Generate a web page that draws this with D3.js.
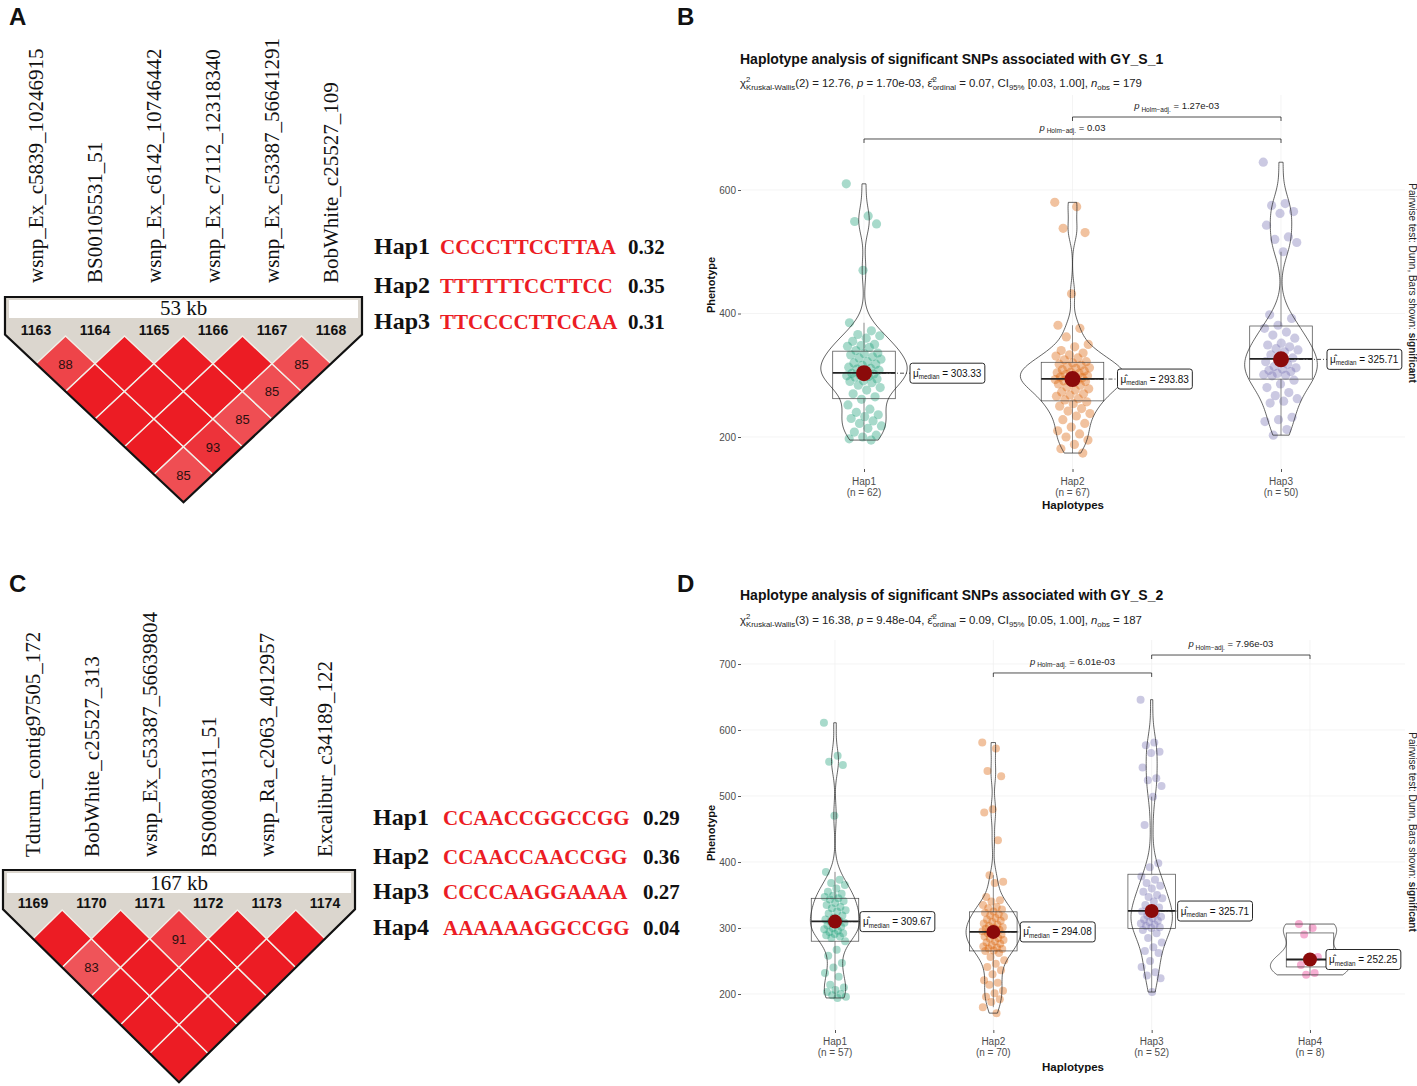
<!DOCTYPE html>
<html>
<head>
<meta charset="utf-8">
<script src="https://cdn.jsdelivr.net/npm/d3@7"></script>
<style>
  body { margin: 0; background: #fff; }
  svg text { font-family: "Liberation Sans", Arial, sans-serif; }
  svg text.serif { font-family: "Liberation Serif", "Times New Roman", serif; }
</style>
</head>
<body>
<svg id="fig" width="1417" height="1086"></svg>
<script>
// ---------------- data: LD blocks (panels A and C)
const snpNamesA = ["wsnp_Ex_c5839_10246915", "BS00105531_51", "wsnp_Ex_c6142_10746442",
                   "wsnp_Ex_c7112_12318340", "wsnp_Ex_c53387_56641291", "BobWhite_c25527_109"];
const snpIdsA = ["1163", "1164", "1165", "1166", "1167", "1168"];
const ldA = [[0, 1, 88], [4, 5, 85], [3, 5, 85], [2, 5, 85], [1, 5, 93], [0, 5, 85]]; // D' below 100
const spanA = "53 kb";
const hapNamesA = ["Hap1", "Hap2", "Hap3"];
const hapSeqA = ["CCCCTTCCTTAA", "TTTTTTCCTTCC", "TTCCCCTTCCAA"];
const hapFreqA = ["0.32", "0.35", "0.31"];

const snpNamesC = ["Tdurum_contig97505_172", "BobWhite_c25527_313", "wsnp_Ex_c53387_56639804",
                   "BS00080311_51", "wsnp_Ra_c2063_4012957", "Excalibur_c34189_122"];
const snpIdsC = ["1169", "1170", "1171", "1172", "1173", "1174"];
const ldC = [[0, 2, 83], [2, 3, 91]];
const spanC = "167 kb";
const hapNamesC = ["Hap1", "Hap2", "Hap3", "Hap4"];
const hapSeqC = ["CCAACCGGCCGG", "CCAACCAACCGG", "CCCCAAGGAAAA", "AAAAAAGGCCGG"];
const hapFreqC = ["0.29", "0.36", "0.27", "0.04"];

// ---------------- data: GY_S_1 (panel B)
const titleB = "Haplotype analysis of significant SNPs associated with GY_S_1";
const subB = ["2", "12.76", "1.70e-03", "0.07", "[0.03, 1.00]", "179"];
const groupsB = ["Hap1", "Hap2", "Hap3"];
const countsB = [62, 67, 50];
const hap1B = [610, 558, 549, 545, 470, 385, 372, 366, 364, 360, 355, 350, 348, 347, 345, 340, 336, 335, 333, 330,
  328, 326, 322, 320, 318, 316, 313, 311, 310, 308, 305, 303, 302, 300, 299, 298, 297, 294, 291, 290,
  288, 284, 280, 276, 270, 265, 261, 252, 245, 240, 236, 233, 230, 226, 222, 218, 214, 208, 203, 200, 197, 195];
const hap2B = [580, 573, 538, 531, 432, 381, 376, 362, 350, 346, 340, 336, 333, 331, 328, 325, 322, 320, 318, 316,
  314, 312, 311, 309, 307, 305, 304, 303, 301, 299, 298, 297, 296, 294, 293, 292, 291, 290, 288, 286,
  284, 281, 278, 276, 273, 270, 268, 266, 262, 260, 257, 254, 250, 246, 242, 238, 234, 228, 222, 216,
  210, 205, 200, 195, 188, 181, 174];
const hap3B = [645, 578, 575, 565, 562, 543, 524, 520, 515, 500, 398, 392, 381, 376, 370, 365, 360, 352, 349, 346,
  343, 341, 338, 333, 328, 325, 322, 318, 314, 312, 310, 308, 306, 303, 301, 300, 299, 292, 286, 280,
  272, 267, 262, 258, 255, 232, 228, 225, 212, 203];
const mediansB = [303.33, 293.83, 325.71];
const pairsB = [["Hap1", "Hap3", "0.03"], ["Hap2", "Hap3", "1.27e-03"]];
const yTicksB = [200, 400, 600];

// ---------------- data: GY_S_2 (panel D)
const titleD = "Haplotype analysis of significant SNPs associated with GY_S_2";
const subD = ["3", "16.38", "9.48e-04", "0.09", "[0.05, 1.00]", "187"];
const groupsD = ["Hap1", "Hap2", "Hap3", "Hap4"];
const countsD = [57, 70, 52, 8];
const hap1D = [611, 561, 552, 547, 470, 385, 373, 368, 365, 360, 355, 352, 349, 347, 345, 343, 341, 338, 335, 332,
  330, 327, 325, 322, 319, 316, 313, 311, 310, 308, 306, 304, 302, 300, 298, 296, 294, 292, 291, 289,
  287, 285, 280, 267, 258, 247, 240, 232, 226, 214, 210, 206, 203, 200, 198, 196, 194];
const hap2D = [581, 572, 538, 530, 480, 475, 433, 380, 370, 368, 347, 342, 340, 335, 332, 330, 328, 325, 323, 321,
  319, 317, 315, 313, 311, 309, 307, 305, 303, 301, 300, 299, 297, 296, 295, 293, 292, 290, 289, 287,
  285, 284, 282, 280, 278, 276, 274, 272, 270, 269, 268, 266, 265, 262, 256, 251, 246, 241, 236, 230,
  221, 217, 214, 205, 201, 196, 192, 188, 180, 171];
const hap3D = [646, 581, 577, 567, 565, 543, 527, 524, 515, 499, 456, 398, 392, 378, 373, 368, 364, 360, 355, 350,
  347, 345, 340, 335, 331, 327, 325, 322, 319, 317, 315, 313, 311, 309, 307, 305, 303, 301, 300, 297,
  292, 285, 278, 271, 265, 262, 250, 241, 233, 228, 224, 203];
const hap4D = [306, 300, 290, 256, 248.5, 244, 232, 229];
const mediansD = [309.67, 294.08, 325.71, 252.25];
const pairsD = [["Hap2", "Hap3", "6.01e-03"], ["Hap3", "Hap4", "7.96e-03"]];
const yTicksD = [200, 300, 400, 500, 600, 700];

// ---------------- shared
const DARK2 = ["#1b9e77", "#d95f02", "#7570b3", "#e7298a"];
const svg = d3.select("#fig");

// panel letters
[["A", 9, 25], ["B", 677, 25], ["C", 9, 592], ["D", 677, 592]].forEach(d => {
  svg.append("text").attr("x", d[1]).attr("y", d[2]).attr("font-size", 24)
    .attr("font-weight", "bold").attr("fill", "#111").text(d[0]);
});

// ---------------- LD triangle
function drawLD(o) {
  const g = svg.append("g");
  const x = d3.scalePoint().domain(o.ids).range(o.snpRange);
  const hw = x.step() / 2, hh = o.hh, n = o.ids.length;
  const first = x(o.ids[0]), last = x(o.ids[n - 1]);
  const apex = [(first + last) / 2, o.dTop + n * hh];
  const sideL = o.dTop + hh - (first - o.x0) * hh / hw;
  const sideR = o.dTop + hh - (o.x1 - last) * hh / hw;
  const outline = [[o.x0, o.top], [o.x1, o.top], [o.x1, sideR], apex, [o.x0, sideL]];
  const line = d3.line();

  g.append("path").attr("d", line(outline) + "Z").attr("fill", "#dbd6ce");
  g.append("rect").attr("x", o.x0 + 4).attr("y", o.band[0]).attr("width", o.x1 - o.x0 - 8)
    .attr("height", o.band[1] - o.band[0]).attr("fill", "#fff");
  g.append("text").attr("class", "serif").attr("x", (o.x0 + o.x1) / 2).attr("y", o.band[1] - 3)
    .attr("text-anchor", "middle").attr("font-size", 21).attr("fill", "#111").text(o.span);

  g.selectAll(".sid").data(o.ids).join("text").attr("class", "sid")
    .attr("x", d => x(d)).attr("y", o.idY).attr("text-anchor", "middle")
    .attr("font-size", 14).attr("font-weight", "bold").attr("fill", "#111").text(d => d);

  // every pair of markers, with D' = 100 unless listed
  const cells = [];
  for (let i = 0; i < n; i++) for (let j = i + 1; j < n; j++) {
    const hit = o.ld.find(c => c[0] === i && c[1] === j);
    cells.push({ i, j, v: hit ? hit[2] : 100 });
  }
  const col = v => d3.interpolateRgb("#f4a0a0", "#ec1c24")((v - 60) / 40);
  g.selectAll(".cell").data(cells).join("path").attr("class", "cell")
    .attr("d", c => {
      const cx = (x(o.ids[c.i]) + x(o.ids[c.j])) / 2, cy = o.dTop + (c.j - c.i) * hh;
      return line([[cx, cy - hh], [cx + hw, cy], [cx, cy + hh], [cx - hw, cy]]) + "Z";
    })
    .attr("fill", c => col(c.v)).attr("stroke", "#f3efe8").attr("stroke-width", 1.4);
  g.selectAll(".cv").data(cells.filter(c => c.v < 100)).join("text").attr("class", "cv")
    .attr("x", c => (x(o.ids[c.i]) + x(o.ids[c.j])) / 2)
    .attr("y", c => o.dTop + (c.j - c.i) * hh + 5)
    .attr("text-anchor", "middle").attr("font-size", 13).attr("fill", "#2a1010").text(c => c.v);

  g.append("path").attr("d", line(outline) + "Z").attr("fill", "none")
    .attr("stroke", "#111").attr("stroke-width", 2.2).attr("stroke-linejoin", "miter");

  // marker names, rotated
  g.selectAll(".snm").data(o.names).join("text").attr("class", "serif snm")
    .attr("transform", (d, k) => `translate(${x(o.ids[k])},${o.nameY}) rotate(-90)`)
    .attr("dy", "0.35em").attr("font-size", 21).attr("fill", "#111").text(d => d);
}

function drawHaps(names, seqs, freqs, xs, ys) {
  const g = svg.append("g").attr("font-weight", "bold");
  names.forEach((nm, k) => {
    g.append("text").attr("class", "serif").attr("x", xs[0]).attr("y", ys[k])
      .attr("font-size", 24).attr("fill", "#111").text(nm);
    g.append("text").attr("class", "serif").attr("x", xs[1]).attr("y", ys[k])
      .attr("font-size", 21).attr("fill", "#ec1c24").text(seqs[k]);
    g.append("text").attr("class", "serif").attr("x", xs[2]).attr("y", ys[k])
      .attr("font-size", 21).attr("fill", "#111").text(freqs[k]);
  });
}

drawLD({ names: snpNamesA, ids: snpIdsA, ld: ldA, span: spanA, x0: 5, x1: 362, top: 297,
         band: [300, 318], idY: 335, nameY: 283, snpRange: [36, 331], dTop: 336, hh: 27.7 });
drawHaps(hapNamesA, hapSeqA, hapFreqA, [374, 440, 628], [254, 293, 329]);

drawLD({ names: snpNamesC, ids: snpIdsC, ld: ldC, span: spanC, x0: 3, x1: 355, top: 870,
         band: [873, 893], idY: 908, nameY: 857, snpRange: [33, 325], dTop: 910, hh: 28.7 });
drawHaps(hapNamesC, hapSeqC, hapFreqC, [373, 443, 643], [825, 864, 899, 935]);

// ---------------- violin + box + jitter panels
function gauss(u) { return Math.exp(-0.5 * u * u) / Math.sqrt(2 * Math.PI); }
function bwNrd0(s) {
  const iqr = d3.quantileSorted(s, 0.75) - d3.quantileSorted(s, 0.25);
  return 0.9 * Math.min(d3.deviation(s), iqr / 1.34) * Math.pow(s.length, -0.2);
}
function density(vals) {
  const s = vals.slice().sort(d3.ascending);
  const bw = bwNrd0(s), [mn, mx] = d3.extent(s);
  return d3.range(0, 129).map(k => {
    const t = mn + (mx - mn) * k / 128;
    return { v: t, d: d3.mean(s, u => gauss((t - u) / bw)) / bw };
  });
}

function subtitle(g, x, y, s) {
  const t = g.append("text").attr("x", x).attr("y", y).attr("font-size", 11.4).attr("fill", "#222");
  t.append("tspan").text("χ");
  t.append("tspan").attr("font-size", 7.8).attr("dy", -5).text("2");
  t.append("tspan").attr("font-size", 7.8).attr("dx", -4.3).attr("dy", 8).text("Kruskal-Wallis");
  t.append("tspan").attr("dy", -3).text(`(${s[0]}) = ${s[1]}, `);
  t.append("tspan").attr("font-style", "italic").text("p");
  t.append("tspan").text(` = ${s[2]}, `);
  t.append("tspan").text("ε\u0302");
  t.append("tspan").attr("font-size", 7.8).attr("dy", -5).text("2");
  t.append("tspan").attr("font-size", 7.8).attr("dx", -4.3).attr("dy", 8).text("ordinal");
  t.append("tspan").attr("dy", -3).text(` = ${s[3]}, CI`);
  t.append("tspan").attr("font-size", 7.8).attr("dy", 3).text("95%");
  t.append("tspan").attr("dy", -3).text(` ${s[4]}, `);
  t.append("tspan").attr("font-style", "italic").text("n");
  t.append("tspan").attr("font-size", 7.8).attr("dy", 3).text("obs");
  t.append("tspan").attr("dy", -3).text(` = ${s[5]}`);
}

function drawPanel(o) {
  const g = svg.append("g");
  const x = d3.scalePoint().domain(o.groups).range(o.xRange);
  const y = d3.scaleLinear().domain(o.yDomain).range(o.yRange);
  const step = x.step();

  // faint grid
  g.append("g").selectAll("line").data(o.yTicks).join("line")
    .attr("x1", o.left).attr("x2", o.right).attr("y1", d => y(d)).attr("y2", d => y(d))
    .attr("stroke", "#efefef").attr("stroke-width", 0.7);
  g.append("g").selectAll("line").data(o.groups).join("line")
    .attr("x1", d => x(d)).attr("x2", d => x(d)).attr("y1", o.top).attr("y2", o.bottom)
    .attr("stroke", "#efefef").attr("stroke-width", 0.7);

  // y axis
  g.append("g").attr("transform", `translate(${o.left},0)`)
    .call(d3.axisLeft(y).tickValues(o.yTicks).tickSize(3).tickPadding(2))
    .call(a => {
      a.select(".domain").remove();
      a.selectAll("line").attr("stroke", "#555");
      a.selectAll("text").attr("font-size", 10).attr("fill", "#4d4d4d")
        .attr("font-family", "'Liberation Sans', Arial, sans-serif");
    });
  // x axis
  g.append("g").attr("transform", `translate(0,${o.bottom})`)
    .call(d3.axisBottom(x).tickSize(3).tickFormat(""))
    .call(a => { a.select(".domain").remove(); a.selectAll("line").attr("stroke", "#555"); });
  o.groups.forEach((grp, i) => {
    g.append("text").attr("x", x(grp)).attr("y", o.xLabY).attr("text-anchor", "middle")
      .attr("font-size", 10).attr("fill", "#4d4d4d").text(grp);
    g.append("text").attr("x", x(grp)).attr("y", o.xLabY + 11).attr("text-anchor", "middle")
      .attr("font-size", 10).attr("fill", "#4d4d4d").text(`(n = ${o.counts[i]})`);
  });
  g.append("text").attr("x", (o.left + o.right) / 2).attr("y", o.axisTitleY).attr("text-anchor", "middle")
    .attr("font-size", 11.5).attr("font-weight", "bold").attr("fill", "#111").text("Haplotypes");
  g.append("text").attr("transform", `translate(${o.left - 30},${o.phenY}) rotate(-90)`)
    .attr("text-anchor", "middle").attr("dy", "0.35em").attr("font-size", 11)
    .attr("font-weight", "bold").attr("fill", "#111").text("Phenotype");

  // titles
  g.append("text").attr("x", o.titleX).attr("y", o.titleY).attr("font-size", 14)
    .attr("font-weight", "bold").attr("fill", "#111").text(o.title);
  subtitle(g, o.titleX, o.subY, o.sub);

  // caption on the right
  const cap = g.append("text").attr("transform", `translate(${o.capX},${o.capY}) rotate(90)`)
    .attr("text-anchor", "middle").attr("dy", "0.35em").attr("font-size", 10).attr("fill", "#222");
  cap.append("tspan").text("Pairwise test:  Dunn, Bars shown:  ");
  cap.append("tspan").attr("font-weight", "bold").text("significant");

  const dens = o.data.map(density);
  const dmax = d3.max(dens, ds => d3.max(ds, p => p.d));
  const halfMax = 0.25 * step;

  o.groups.forEach((grp, i) => {
    const cx = x(grp), vals = o.data[i];
    // jittered points
    g.append("g").selectAll("circle").data(vals).join("circle")
      .attr("cx", (d, k) => cx + (((k * 0.6180339887) % 1) - 0.5) * 2 * o.jitter * step)
      .attr("cy", d => y(d)).attr("r", o.ptR)
      .attr("fill", DARK2[i]).attr("fill-opacity", 0.38);

    // box
    const s = vals.slice().sort(d3.ascending);
    const q1 = d3.quantileSorted(s, 0.25), q2 = d3.quantileSorted(s, 0.5), q3 = d3.quantileSorted(s, 0.75);
    const iqr = q3 - q1;
    const hi = d3.max(s.filter(v => v <= q3 + 1.5 * iqr)), lo = d3.min(s.filter(v => v >= q1 - 1.5 * iqr));
    const bw = 0.15 * step;
    g.append("line").attr("x1", cx).attr("x2", cx).attr("y1", y(q3)).attr("y2", y(hi))
      .attr("stroke", "#444").attr("stroke-width", 0.6);
    g.append("line").attr("x1", cx).attr("x2", cx).attr("y1", y(q1)).attr("y2", y(lo))
      .attr("stroke", "#444").attr("stroke-width", 0.6);
    g.append("rect").attr("x", cx - bw).attr("y", y(q3)).attr("width", 2 * bw).attr("height", y(q1) - y(q3))
      .attr("fill", "none").attr("stroke", "#444").attr("stroke-width", 0.7);
    g.append("line").attr("x1", cx - bw).attr("x2", cx + bw).attr("y1", y(q2)).attr("y2", y(q2))
      .attr("stroke", "#222").attr("stroke-width", 1.8);

    // violin (trimmed, area-scaled)
    const area = d3.area().y(p => y(p.v))
      .x0(p => cx - p.d / dmax * halfMax).x1(p => cx + p.d / dmax * halfMax);
    g.append("path").datum(dens[i]).attr("d", area).attr("fill", "none")
      .attr("stroke", "#222").attr("stroke-width", 0.7);

    // median point + label
    const my = y(o.medians[i]), lx = cx + o.labelDx[i];
    g.append("line").attr("x1", cx).attr("x2", lx).attr("y1", my).attr("y2", my)
      .attr("stroke", "#222").attr("stroke-width", 0.8).attr("stroke-dasharray", "4,2,1,2");
    g.append("circle").attr("cx", cx).attr("cy", my).attr("r", o.dotR).attr("fill", "#8b0a0a");
    const lab = g.append("g");
    const t = lab.append("text").attr("x", lx + 3).attr("y", my + 3.5).attr("font-size", 10).attr("fill", "#111");
    t.append("tspan").text("μ\u0302");
    t.append("tspan").attr("font-size", 6.3).attr("dy", 2.5).text("median");
    t.append("tspan").attr("dy", -2.5).text(" = " + o.medians[i].toFixed(2));
    const bb = t.node().getBBox();
    lab.insert("rect", "text").attr("x", lx).attr("y", my - 10).attr("width", bb.width + 6).attr("height", 20)
      .attr("rx", 2.5).attr("fill", "#fff").attr("stroke", "#111").attr("stroke-width", 0.9);
  });

  // significance brackets
  o.pairs.forEach((pr, k) => {
    const x1 = x(pr[0]), x2 = x(pr[1]), yy = y(o.bracketV[k]);
    g.append("path").attr("d", `M${x1},${yy + 4}V${yy}H${x2}V${yy + 4}`)
      .attr("fill", "none").attr("stroke", "#222").attr("stroke-width", 0.8);
    const t = g.append("text").attr("x", (x1 + x2) / 2).attr("y", yy - 8)
      .attr("text-anchor", "middle").attr("font-size", 9.5).attr("fill", "#222");
    t.append("tspan").attr("font-style", "italic").text("p");
    t.append("tspan").attr("font-size", 6.5).attr("dy", 2.5).text(" Holm\u2212adj.");
    t.append("tspan").attr("dy", -2.5).text(" = " + pr[2]);
  });
}

drawPanel({
  groups: groupsB, counts: countsB, data: [hap1B, hap2B, hap3B], medians: mediansB, pairs: pairsB,
  title: titleB, sub: subB, yTicks: yTicksB, yDomain: [200, 600], yRange: [437, 190], xRange: [864, 1281],
  left: 741, right: 1405, top: 95, bottom: 469, titleX: 740, titleY: 64, subY: 87,
  xLabY: 485, axisTitleY: 509, phenY: 285, capX: 1412, capY: 283,
  bracketV: [682.6, 718.2], labelDx: [46, 45, 46], jitter: 0.085, ptR: 4.6, dotR: 8
});
drawPanel({
  groups: groupsD, counts: countsD, data: [hap1D, hap2D, hap3D, hap4D], medians: mediansD, pairs: pairsD,
  title: titleD, sub: subD, yTicks: yTicksD, yDomain: [200, 700], yRange: [994, 664], xRange: [835, 1310],
  left: 741, right: 1405, top: 640, bottom: 1030, titleX: 740, titleY: 600, subY: 624,
  xLabY: 1045, axisTitleY: 1071, phenY: 833, capX: 1412, capY: 832,
  bracketV: [686.4, 713.6], labelDx: [25, 27, 26, 16], jitter: 0.07, ptR: 4, dotR: 7
});
</script>
</body>
</html>
